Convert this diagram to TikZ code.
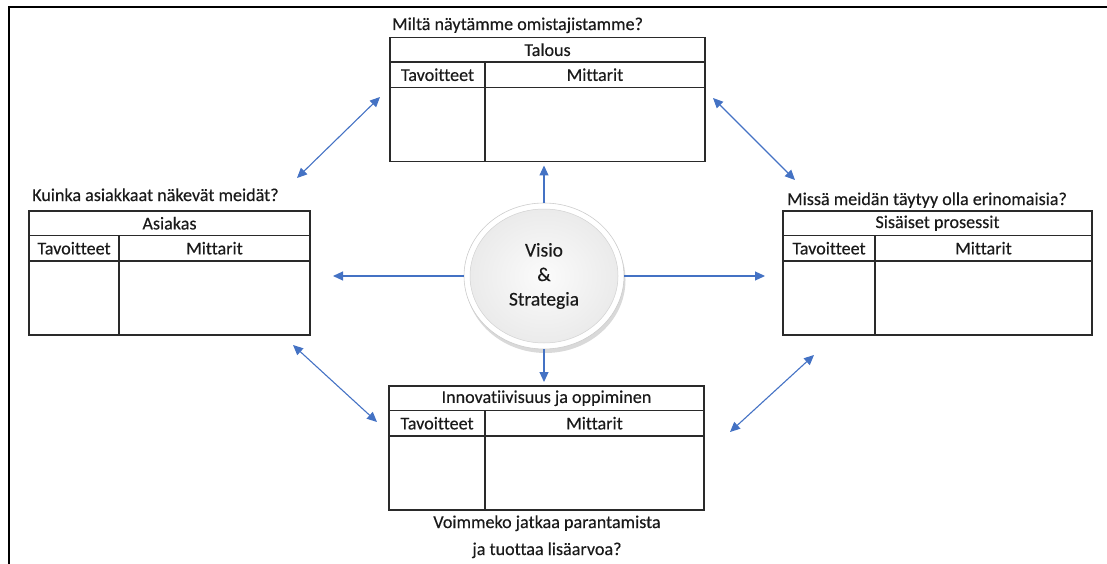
\documentclass[tikz,border=0pt]{standalone}
\usepackage{fontspec}
\setmainfont{Carlito}[Ligatures=NoCommon, FakeBold=0.35]
\usetikzlibrary{arrows.meta,shapes.geometric,shadows}
\definecolor{arrowblue}{HTML}{4472C4}
\definecolor{ink}{HTML}{1A1A1A}
\definecolor{rule}{HTML}{2A2A2A}

% One scorecard: #1 name, #2 left, #3 top, #4 width, #5 first column width, #6 title
\newcommand{\scorecard}[6]{%
  \node[hdr, minimum width=#4, anchor=north west] (#1-title) at (#2,#3) {#6};
  \node[sub, minimum width=#5, anchor=north west] (#1-tav) at (#1-title.south west) {Tavoitteet};
  \node[sub, minimum width=#4-#5, anchor=north west] (#1-mit) at (#1-tav.north east) {Mittarit};
  \node[body, minimum width=#5, anchor=north west] (#1-tb) at (#1-tav.south west) {};
  \node[body, minimum width=#4-#5, anchor=north west] (#1-mb) at (#1-mit.south west) {};
}

\begin{document}
\begin{tikzpicture}[x=1pt,y=-1pt,
  txt/.style={font=\fontsize{18.1}{22}\selectfont, text=ink},
  cellbase/.style={draw=rule, line width=1.1pt, inner sep=0pt, outer sep=0pt, txt},
  hdr/.style={cellbase, minimum height=24.5},
  sub/.style={cellbase, minimum height=25.5},
  body/.style={cellbase, minimum height=74},
  question/.style={txt, inner sep=0pt},
  arr/.style={draw=arrowblue, line width=1.1pt, -{Triangle[length=10pt,width=9pt]}},
  darr/.style={draw=arrowblue, line width=1.1pt, {Triangle[length=10pt,width=9pt]}-{Triangle[length=10pt,width=9pt]}},
]
\useasboundingbox (0,0) rectangle (1107,564);

% frame edges
\draw[line width=2.5pt, line cap=rect] (9,566) -- (9,7) -- (1110,7);

% the four perspectives
\scorecard{tal}{390}{37.5}{315}{95}{Talous}
\scorecard{asi}{29}{211}{281}{90}{Asiakas}
\scorecard{sis}{783}{211}{309}{92}{Sisäiset prosessit}
\scorecard{inn}{389}{386}{315}{96}{Innovatiivisuus ja oppiminen}

% guiding questions
\node[question, anchor=base west] (tal-q) at (392,30) {Miltä näytämme omistajistamme?};
\node[question, anchor=base west] (asi-q) at (32,201) {Kuinka asiakkaat näkevät meidät?};
\node[question, anchor=base west] (sis-q) at (787,205) {Missä meidän täytyy olla erinomaisia?};
\node[question, anchor=base] (inn-q1) at (547,528) {Voimmeko jatkaa parantamista};
\node[question, anchor=base] (inn-q2) at (547,555) {ja tuottaa lisäarvoa?};

% vision and strategy in the centre
\node[ellipse, minimum width=160, minimum height=146, draw=gray!40, line width=0.6pt,
      fill=white, drop shadow={opacity=0.3, shadow xshift=1.5pt, shadow yshift=-4pt},
      path picture={\filldraw[draw=gray!35, line width=0.5pt, inner color=gray!3, outer color=gray!17]
        (path picture bounding box.center) ellipse (74 and 67);},
      align=center, text=ink, font=\fontsize{19.5}{24.5}\selectfont] (vis) at (544,276)
      {Visio\\\&\\Strategia};

% links from the centre
\draw[arr, shorten >=4pt] (vis) -- (vis |- tal-mb.south);
\draw[arr, shorten >=4pt] (vis) -- (vis |- inn-title.north);
\draw[arr, shorten >=23pt] (vis) -- (asi-mb.east |- vis);
\draw[arr, shorten >=18pt] (vis) -- (sis-tb.west |- vis);

% links between neighbouring perspectives
\coordinate (ta-a) at (297,178);  \coordinate (ta-b) at (380,97);
\coordinate (ts-a) at (713,98);   \coordinate (ts-b) at (795,180);
\coordinate (ai-a) at (293,345);  \coordinate (ai-b) at (377,422);
\coordinate (si-a) at (814,355);  \coordinate (si-b) at (730,432);
\draw[darr] (ta-a) -- (ta-b);
\draw[darr] (ts-a) -- (ts-b);
\draw[darr] (ai-a) -- (ai-b);
\draw[darr] (si-a) -- (si-b);
\end{tikzpicture}
\end{document}
